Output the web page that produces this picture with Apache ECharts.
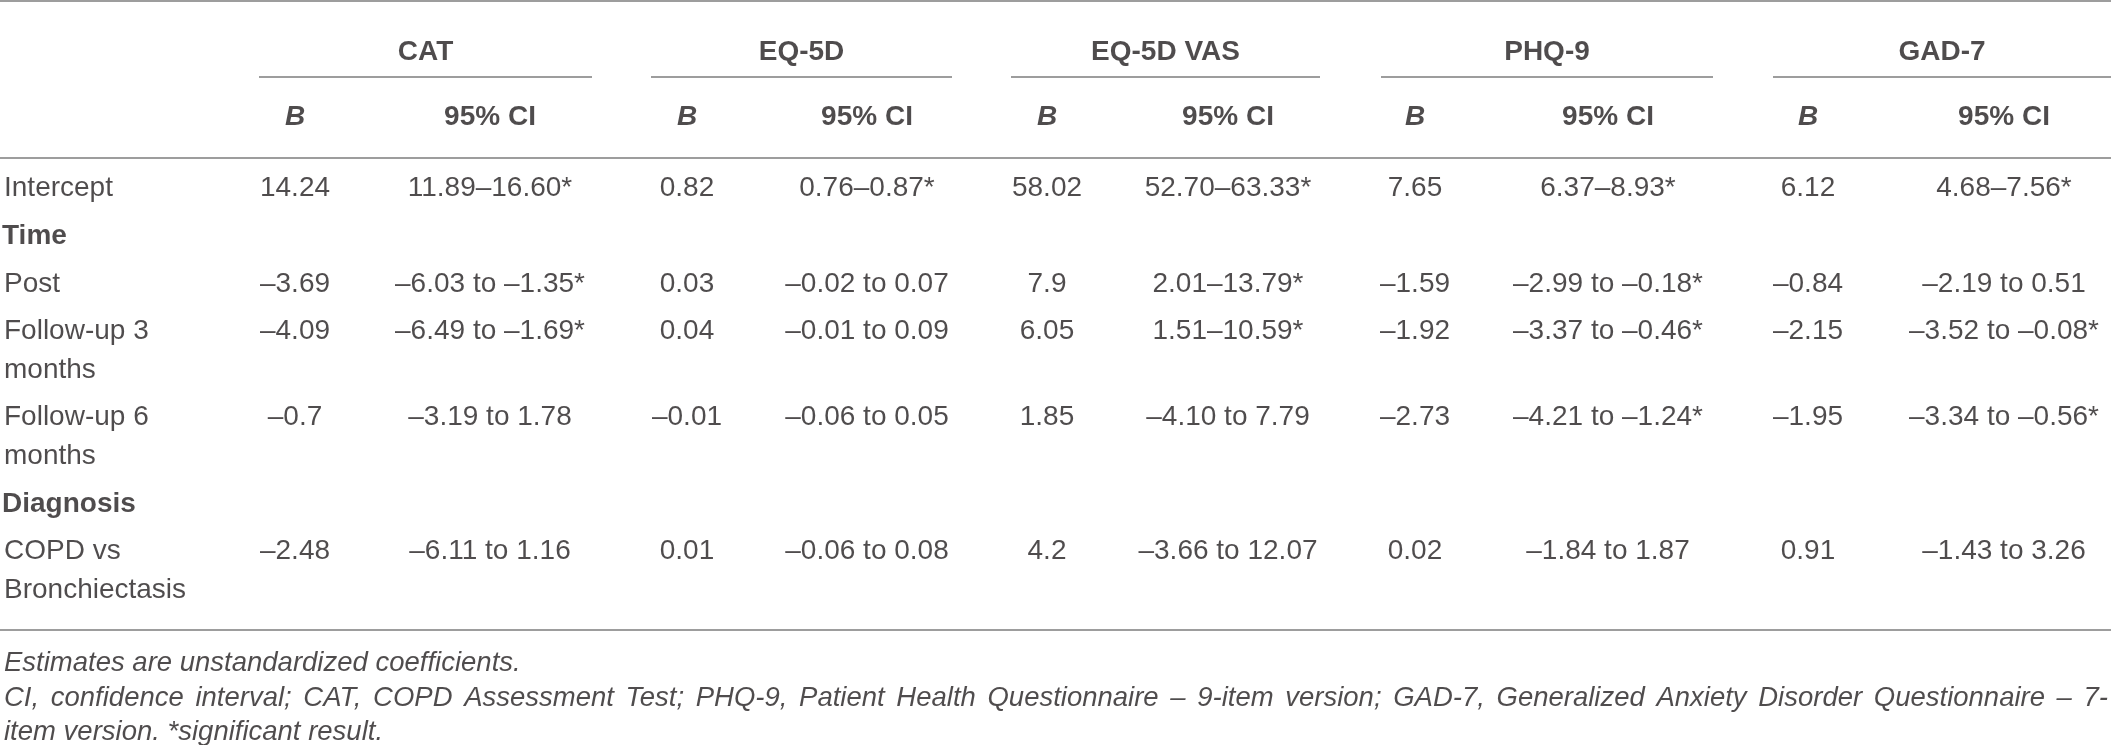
<!DOCTYPE html>
<html>
<head>
    <meta charset="utf-8">
    <title>Regression table</title>
    <script src="https://cdn.jsdelivr.net/npm/echarts@6/dist/echarts.min.js"></script>
    <style>
        html, body { margin: 0; padding: 0; background: #fff; }
        #main { width: 2111px; height: 745px; }
    </style>
</head>
<body>
<div id="main"></div>
<script>
    // table data
    var groups = ['CAT', 'EQ-5D', 'EQ-5D VAS', 'PHQ-9', 'GAD-7'];
    var rowLabels = ['Intercept', 'Post', 'Follow-up 3\nmonths', 'Follow-up 6\nmonths', 'COPD vs\nBronchiectasis'];
    var sectionLabels = ['Time', 'Diagnosis'];
    var subHeaders = ['B', '95% CI'];

    var catB = [14.24, -3.69, -4.09, -0.7, -2.48];
    var catLo = [11.89, -6.03, -6.49, -3.19, -6.11];
    var catHi = [16.60, -1.35, -1.69, 1.78, 1.16];
    var catSig = [1, 1, 1, 0, 0];

    var eqB = [0.82, 0.03, 0.04, -0.01, 0.01];
    var eqLo = [0.76, -0.02, -0.01, -0.06, -0.06];
    var eqHi = [0.87, 0.07, 0.09, 0.05, 0.08];
    var eqSig = [1, 0, 0, 0, 0];

    var vasB = [58.02, 7.9, 6.05, 1.85, 4.2];
    var vasLo = [52.70, 2.01, 1.51, -4.10, -3.66];
    var vasHi = [63.33, 13.79, 10.59, 7.79, 12.07];
    var vasSig = [1, 1, 1, 0, 0];

    var phqB = [7.65, -1.59, -1.92, -2.73, 0.02];
    var phqLo = [6.37, -2.99, -3.37, -4.21, -1.84];
    var phqHi = [8.93, -0.18, -0.46, -1.24, 1.87];
    var phqSig = [1, 1, 1, 1, 0];

    var gadB = [6.12, -0.84, -2.15, -1.95, 0.91];
    var gadLo = [4.68, -2.19, -3.52, -3.34, -1.43];
    var gadHi = [7.56, 0.51, -0.08, -0.56, 3.26];
    var gadSig = [1, 0, 1, 1, 0];

    var footnotes = [
        'Estimates are unstandardized coefficients.',
        'CI, confidence interval; CAT, COPD Assessment Test; PHQ-9, Patient Health Questionnaire \u2013 9-item version; GAD-7, Generalized Anxiety Disorder Questionnaire \u2013 7-',
        'item version. *significant result.'
    ];
    var justified = [false, true, false];

    // layout (pixel units of the hidden axes)
    var W = 2111, H = 745;
    var bX = [295, 687, 1047, 1415, 1808];
    var ciX = [490, 867, 1228, 1608, 2004];
    var spans = [[259, 592], [651, 952], [1011, 1320], [1381, 1713], [1773, 2111]];
    var rowY = [188, 284, 331, 417, 551];
    var sectionY = [236, 504];
    var lineH = 39;
    var groupY = 52, underY = 77, subY = 117, ruleY = 158, topY = 1, bottomY = 630;
    var footY = [663, 698, 732];
    var footLeft = 4, footRight = 2108;
    var FONT = '"Liberation Sans", Arial, sans-serif';
    var FOOT_SIZE = 27.5;
    var TEXT = '#231f20';
    var RULE = '#9d9d9d';

    function dash(v) {
        return String(v).replace('-', '\u2013');
    }
    function ciText(lo, hi, sig) {
        var s = lo >= 0
            ? lo.toFixed(2) + '\u2013' + hi.toFixed(2)
            : dash(lo.toFixed(2)) + ' to ' + dash(hi.toFixed(2));
        return s + (sig ? '*' : '');
    }

    var cols = [
        [catB, catLo, catHi, catSig],
        [eqB, eqLo, eqHi, eqSig],
        [vasB, vasLo, vasHi, vasSig],
        [phqB, phqLo, phqHi, phqSig],
        [gadB, gadLo, gadHi, gadSig]
    ];

    var cellData = [];
    cols.forEach(function (c, g) {
        for (var r = 0; r < c[0].length; r++) {
            cellData.push({ name: dash(c[0][r]), value: [bX[g], rowY[r]] });
            cellData.push({ name: ciText(c[1][r], c[2][r], c[3][r]), value: [ciX[g], rowY[r]] });
        }
    });

    var labelData = rowLabels.map(function (t, i) {
        var n = t.split('\n').length;
        return { name: t, value: [4, rowY[i] + (n - 1) * lineH / 2] };
    });
    var sectionData = sectionLabels.map(function (t, i) {
        return { name: t, value: [2, sectionY[i]] };
    });
    var groupData = groups.map(function (t, i) {
        return { name: t, value: [(spans[i][0] + spans[i][1]) / 2, groupY] };
    });
    var ciHeadData = groups.map(function (t, i) {
        return { name: subHeaders[1], value: [ciX[i], subY] };
    });
    var bHeadData = groups.map(function (t, i) {
        return { name: subHeaders[0], value: [bX[i], subY] };
    });

    // footnotes: the wrapped line is justified to the full width, word by word
    var ctx = document.createElement('canvas').getContext('2d');
    ctx.font = 'italic ' + FOOT_SIZE + 'px ' + FONT;
    var footData = [];
    footnotes.forEach(function (t, i) {
        if (!justified[i]) {
            footData.push({ name: t, value: [footLeft, footY[i]] });
            return;
        }
        var words = t.split(' ');
        var widths = words.map(function (w) { return ctx.measureText(w).width; });
        var total = widths.reduce(function (a, b) { return a + b; }, 0);
        var gap = (footRight - footLeft - total) / (words.length - 1);
        var x = footLeft;
        words.forEach(function (w, k) {
            footData.push({ name: w, value: [x, footY[i]] });
            x += widths[k] + gap;
        });
    });

    function textSeries(data, pos, style) {
        return {
            type: 'scatter',
            data: data,
            symbolSize: 0,
            silent: true,
            label: Object.assign({
                show: true,
                position: pos,
                distance: 0,
                formatter: '{b}',
                fontFamily: FONT,
                fontSize: 28,
                lineHeight: lineH,
                color: TEXT
            }, style || {})
        };
    }

    var rules = [[0, W, topY], [0, W, ruleY], [0, W, bottomY]];
    spans.forEach(function (s) { rules.push([s[0], s[1], underY]); });

    var series = rules.map(function (r) {
        return {
            type: 'line',
            data: [[r[0], r[2]], [r[1], r[2]]],
            symbol: 'none',
            silent: true,
            lineStyle: { color: RULE, width: 2 }
        };
    });
    series.push(textSeries(cellData, 'inside'));
    series.push(textSeries(labelData, 'right'));
    series.push(textSeries(sectionData, 'right', { fontWeight: 'bold' }));
    series.push(textSeries(groupData, 'inside', { fontWeight: 'bold' }));
    series.push(textSeries(ciHeadData, 'inside', { fontWeight: 'bold' }));
    series.push(textSeries(bHeadData, 'inside', { fontWeight: 'bold', fontStyle: 'italic' }));
    series.push(textSeries(footData, 'right', { fontStyle: 'italic', fontSize: FOOT_SIZE, lineHeight: 32 }));

    var myChart = echarts.init(document.getElementById('main'));
    var option = {
        animation: false,
        backgroundColor: '#fff',
        grid: { left: 0, right: 0, top: 0, bottom: 0 },
        xAxis: { type: 'value', min: 0, max: W, show: false },
        yAxis: { type: 'value', min: 0, max: H, inverse: true, show: false },
        series: series
    };
    myChart.setOption(option);
</script>
</body>
</html>
